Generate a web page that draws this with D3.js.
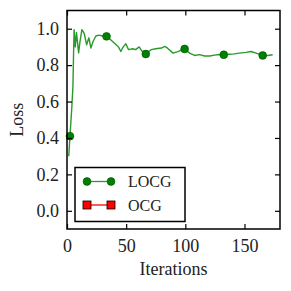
<!DOCTYPE html>
<html>
<head>
<meta charset="utf-8">
<script src="https://cdn.jsdelivr.net/npm/d3@7"></script>
<style>
  body { margin: 0; background: #fff; }
  svg { display: block; }
</style>
</head>
<body>
<svg id="chart" width="291" height="291"></svg>
<script>
// LOCG loss curve (iteration, loss)
const locgIter = [1.5, 2.5, 4, 5, 5.5, 6, 7, 8, 9.8, 11, 12.6, 14.5, 16.6, 18.5, 20.2, 22, 24.4, 27.2, 30, 33.4,
  36, 38.5, 41.8, 43.5, 45.5, 47.5, 49.7, 52, 55.6, 58, 61, 63, 65, 66.6, 69, 71.3, 75, 79.8, 82.6, 85,
  89.6, 93.8, 96.5, 99.4, 103.6, 107.8, 112, 116.3, 120.5, 124.7, 128.5, 132.5, 137.3, 141.5, 145.7,
  151.3, 155.6, 159.8, 165.4, 169.6, 173.8];
const locgLoss = [0.30, 0.41, 0.56, 0.68, 0.85, 0.995, 0.90, 0.98, 0.867, 0.93, 0.995, 0.975, 0.912, 0.95, 0.894, 0.93, 0.96, 0.965, 0.96, 0.958,
  0.945, 0.93, 0.91, 0.9, 0.875, 0.9, 0.917, 0.885, 0.89, 0.885, 0.9, 0.88, 0.866, 0.861, 0.875, 0.885, 0.89, 0.894, 0.903, 0.893,
  0.866, 0.874, 0.882, 0.889, 0.866, 0.853, 0.858, 0.85, 0.85, 0.855, 0.858, 0.857, 0.86, 0.862, 0.866,
  0.87, 0.875, 0.866, 0.853, 0.853, 0.857];
// marker positions on the LOCG curve
const locgMarkIter = [2.5, 33.4, 66.6, 99.4, 132.5, 165.4];
const locgMarkLoss = [0.41, 0.958, 0.861, 0.889, 0.857, 0.853];
// OCG appears only in the legend
const ocgIter = [];
const ocgLoss = [];

const xTicks = [0, 50, 100, 150];
const yTicks = [0.0, 0.2, 0.4, 0.6, 0.8, 1.0];
const seriesNames = ["LOCG", "OCG"];

const margin = { top: 10.5, right: 11, bottom: 62, left: 67 };
const W = 291, H = 291;
const width = W - margin.left - margin.right;
const height = H - margin.top - margin.bottom;

const svg = d3.select("#chart");
const g = svg.append("g").attr("transform", `translate(${margin.left},${margin.top})`);

const x = d3.scaleLinear().domain([0, 180]).range([0, width]);
const y = d3.scaleLinear().domain([-0.1, 1.1]).range([height, 0]);

const font = "Liberation Serif, Times New Roman, serif";
const green = "#008000";

// curve
const locg = locgIter.map((d, i) => [d, locgLoss[i]]);
const line = d3.line().x(d => x(d[0])).y(d => y(d[1]));
g.append("path")
  .datum(locg)
  .attr("d", line)
  .attr("fill", "none")
  .attr("stroke", "#2a9a2a")
  .attr("stroke-width", 1.4)
  .attr("stroke-linejoin", "round");

g.selectAll(".mark")
  .data(locgMarkIter.map((d, i) => [d, locgMarkLoss[i]]))
  .enter().append("circle")
  .attr("class", "mark")
  .attr("cx", d => x(d[0]))
  .attr("cy", d => y(d[1]))
  .attr("r", 3.9)
  .attr("fill", green)
  .attr("stroke", "#004d00")
  .attr("stroke-width", 0.6);

const ocg = ocgIter.map((d, i) => [d, ocgLoss[i]]);
if (ocg.length) {
  g.append("path").datum(ocg).attr("d", line)
    .attr("fill", "none").attr("stroke", "red").attr("stroke-width", 1);
}

// inward ticks on all four sides
const tl = 5;
g.append("g").attr("transform", `translate(0,${height})`)
  .call(d3.axisBottom(x).tickValues(xTicks).tickSizeInner(-tl).tickSizeOuter(0).tickPadding(10))
  .call(a => a.select(".domain").remove());
g.append("g")
  .call(d3.axisTop(x).tickValues(xTicks).tickSizeInner(-tl).tickSizeOuter(0).tickFormat(""))
  .call(a => a.select(".domain").remove());
g.append("g")
  .call(d3.axisLeft(y).tickValues(yTicks).tickSizeInner(-tl).tickSizeOuter(0).tickPadding(8).tickFormat(d3.format(".1f")))
  .call(a => a.select(".domain").remove());
g.append("g").attr("transform", `translate(${width},0)`)
  .call(d3.axisRight(y).tickValues(yTicks).tickSizeInner(-tl).tickSizeOuter(0).tickFormat(""))
  .call(a => a.select(".domain").remove());

g.selectAll(".tick line").attr("stroke", "#000").attr("stroke-width", 1.2);
g.selectAll(".tick text")
  .style("font-family", font)
  .style("font-size", "18px")
  .attr("fill", "#222");

// frame
g.append("rect")
  .attr("width", width).attr("height", height)
  .attr("fill", "none").attr("stroke", "#000").attr("stroke-width", 1.5);

// axis labels
svg.append("text")
  .attr("x", margin.left + width / 2)
  .attr("y", 275)
  .attr("text-anchor", "middle")
  .style("font-family", font).style("font-size", "18px").attr("fill", "#222")
  .text("Iterations");
svg.append("text")
  .attr("transform", `translate(23,${margin.top + height / 2}) rotate(-90)`)
  .attr("text-anchor", "middle")
  .style("font-family", font).style("font-size", "18px").attr("fill", "#222")
  .text("Loss");

// legend
const legend = svg.append("g").attr("transform", "translate(75,167.5)");
legend.append("rect")
  .attr("width", 110).attr("height", 54)
  .attr("fill", "#fff").attr("stroke", "#000").attr("stroke-width", 1.5);

const rows = legend.selectAll(".row").data(seriesNames).enter().append("g")
  .attr("transform", (d, i) => `translate(0,${14 + i * 23.5})`);
rows.append("line")
  .attr("x1", 12).attr("x2", 36)
  .attr("stroke", (d, i) => i === 0 ? "#2a9a2a" : "red").attr("stroke-width", 1.3);
rows.filter((d, i) => i === 0).selectAll("circle").data([12, 36]).enter().append("circle")
  .attr("cx", d => d).attr("r", 3.9).attr("fill", green).attr("stroke", "#004d00").attr("stroke-width", 0.6);
rows.filter((d, i) => i === 1).selectAll("rect").data([12, 36]).enter().append("rect")
  .attr("x", d => d - 4).attr("y", -4).attr("width", 8).attr("height", 8)
  .attr("fill", "red").attr("stroke", "#000").attr("stroke-width", 0.8);
rows.append("text")
  .attr("x", 53).attr("dy", "0.35em")
  .style("font-family", font).style("font-size", "16px").attr("fill", "#222")
  .text(d => d);
</script>
</body>
</html>
